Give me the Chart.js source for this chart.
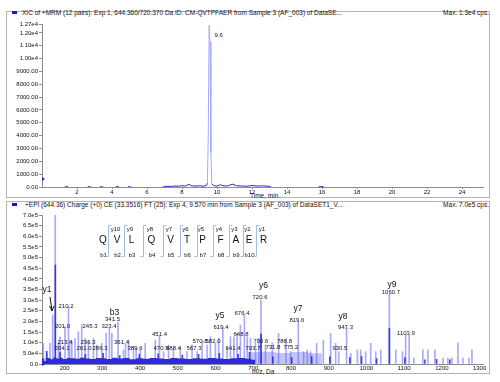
<!DOCTYPE html>
<html>
<head>
<meta charset="utf-8">
<script src="https://cdn.jsdelivr.net/npm/chart.js"></script>
<style>
  body { margin: 0; width: 500px; height: 382px; background: #fff; position: relative; overflow: hidden; font-family: 'Liberation Sans', Arial, sans-serif; }
  .frame { position: absolute; box-sizing: border-box; border: 1px solid #b4b4b4; }
  .txt { position: absolute; font-size: 6.5px; line-height: 7px; color: #111; white-space: nowrap; }
  .sq { position: absolute; width: 5px; height: 3px; background: #1414e6; }
  canvas { position: absolute; left: 0; }
</style>
</head>
<body>
<div class="frame" style="left:6px;top:11px;width:484px;height:187px"></div>
<div class="frame" style="left:6px;top:201px;width:484px;height:173px"></div>

<div class="sq" style="left:12px;top:11px"></div>
<div class="txt" style="left:22px;top:9px">XIC of +MRM (12 pairs): Exp 1, 644.360/720.370 Da ID: CM-QVTPFAER from Sample 3 (AF_003) of DataSE...</div>
<div class="txt" style="right:11px;top:9px">Max. 1.3e4 cps.</div>
<div class="txt" style="left:250px;top:192px">Time, min</div>

<div class="sq" style="left:12px;top:203px"></div>
<div class="txt" style="left:25px;top:201px">+EPI (644.36) Charge (+0) CE (33.3516) FT (25): Exp 4, 9.570 min from Sample 3 (AF_003) of DataSET1_V...</div>
<div class="txt" style="right:11px;top:201px">Max. 7.0e5 cps.</div>
<div class="txt" style="left:252px;top:368px">m/z, Da</div>

<canvas id="xicChart" width="500" height="198" style="top:0"></canvas>
<canvas id="msChart" width="500" height="184" style="top:198px"></canvas>

<script>
// XIC chromatogram
var xicTime = [0, 1.3, 1.4, 1.5, 2.6, 2.7, 2.8, 3.3, 3.4, 3.5, 4.2, 4.3, 4.4, 4.9, 5.0, 5.1, 6.9, 7.0, 7.2, 7.4, 7.6, 7.8, 8.0, 8.2, 8.4, 8.5, 8.6, 8.8, 9.0, 9.2, 9.4, 9.45, 9.5, 9.55, 9.6, 9.65, 9.7, 9.8, 10.0, 10.2, 10.4, 10.6, 10.9, 11.1, 11.4, 11.7, 12.0, 12.3, 12.6, 12.9, 13.1, 15.8, 15.9, 16.0, 16.1, 25.2];
var xicInt = [0, 0, 40, 0, 0, 30, 0, 0, 30, 0, 0, 40, 0, 0, 30, 0, 0, 40, 60, 40, 80, 60, 100, 80, 220, 120, 90, 70, 100, 60, 120, 300, 4000, 12600, 11300, 2700, 250, 120, 60, 180, 80, 90, 220, 100, 80, 60, 110, 70, 90, 60, 0, 0, 40, 40, 0, 0];
var timeTicks = [2, 4, 6, 8, 10, 12, 14, 16, 18, 20, 22, 24];
var xicTicks = [0, 1000, 2000, 3000, 4000, 5000, 6000, 7000, 8000, 9000, 10000, 11000, 12000, 12700];
var xicPeakLabel = '9.6';
var xicPeakAt = [10.1, 11850];

// EPI spectrum sticks
var specMz = [143.5, 152.5, 161.3, 168.4, 175.1, 183.3, 187.8, 201.0, 210.2, 213.4, 219.0, 227.7, 236.4, 245.3, 254.2, 263.0, 276.3, 285.3, 298.6, 310.0, 318.8, 325.2, 341.5, 356.0, 361.4, 369.3, 382.6, 389.6, 400.4, 413.6, 440.2, 451.4, 462.3, 475.5, 488.4, 506.6, 524.4, 537.7, 551.0, 564.3, 577.6, 586.3, 599.6, 608.4, 619.4, 630.7, 639.5, 648.8, 657.3, 666.0, 676.4, 684.0, 692.6, 705.9, 714.7, 720.4, 732.4, 750.3, 767.0, 786.8, 798.9, 819.4, 833.4, 843.2, 852.0, 868.0, 885.7, 905.2, 918.4, 926.4, 947.3, 958.3, 976.0, 984.8, 998.0, 1011.4, 1024.7, 1038.0, 1060.7, 1077.8, 1095.6, 1103.9, 1113.2, 1125.7, 1149.6, 1162.9, 1181.5, 1202.8, 1216.0, 1226.6, 1242.6, 1255.9, 1271.8, 1279.7];
var specInt = [97000, 50000, 97000, 230000, 700000, 97000, 128000, 175000, 270000, 113000, 105000, 121000, 152000, 185000, 120000, 105000, 121000, 89000, 97000, 144000, 168000, 144000, 197000, 66000, 94000, 113000, 81000, 75000, 66000, 97000, 113000, 132000, 58000, 89000, 75000, 81000, 58000, 89000, 58000, 105000, 89000, 128000, 97000, 120000, 168000, 74000, 128000, 128000, 144000, 183000, 230000, 128000, 121000, 97000, 121000, 300000, 89000, 100000, 144000, 120000, 58000, 197000, 58000, 66000, 58000, 97000, 113000, 144000, 97000, 58000, 168000, 50000, 66000, 66000, 58000, 97000, 58000, 66000, 329000, 66000, 58000, 136000, 136000, 28000, 66000, 66000, 66000, 28000, 28000, 28000, 99000, 28000, 28000, 66000];
// darker (overlapping) sticks
var darkMz = [152.5, 175.3, 188.0, 255.0, 302.0, 346.0, 398.0, 448.0, 512.0, 555.0, 610.0, 660.0, 690.0, 720.6, 752.0, 801.8, 854.8, 903.0, 956.0, 987.0, 1027.0, 1060.9, 1102.0, 1155.0, 1186.0, 1221.0];
var darkInt = [60000, 465000, 55000, 45000, 50000, 40000, 45000, 48000, 42000, 45000, 50000, 45000, 55000, 140000, 34000, 30000, 35000, 34000, 30000, 35000, 25000, 168000, 30000, 20000, 22000, 20000];
// low-level noise floor
var noiseMz = [140, 146, 150, 158, 163, 170, 178, 186, 195, 206, 215, 228, 240, 255, 268, 282, 296, 310, 326, 340, 356, 372, 390, 408, 425, 444, 462, 480, 500, 520, 540, 560, 580, 600, 620, 640, 660, 680, 695, 705];
var noiseInt = [26000, 14000, 28000, 27000, 22000, 30000, 26000, 29000, 24000, 28000, 27000, 25000, 29000, 26000, 23000, 28000, 27000, 24000, 29000, 26000, 28000, 22000, 27000, 25000, 28000, 26000, 24000, 28000, 26000, 23000, 27000, 25000, 28000, 26000, 24000, 27000, 28000, 25000, 20000, 0];
var bandMz = [692, 725, 760, 800, 845, 882];
var bandInt = [55000, 58000, 52000, 56000, 50000, 0];

var mzTicks = [200, 300, 400, 500, 600, 700, 800, 900, 1000, 1100, 1200, 1300];
var intTicks = [0, 50000, 100000, 150000, 200000, 250000, 300000, 350000, 400000, 450000, 500000, 550000, 600000, 650000, 700000];

// peak annotations (text, anchor m/z, anchor intensity)
var labelText = ['y1', '210.2', '201.0', 'b3', '341.5', '245.3', '323.4', '213.4', '236.3', '204.1', '261.0', '286.3', '361.4', '389.6', '451.4', '470.5', '488.4', '567.3', '570.8', '582.0', '641.4', '619.4', 'y5', '676.4', '648.8', '720.6', 'y6', '700.6', '703.7', '731.8', '775.2', '786.8', '819.6', 'y7', '930.5', '947.3', 'y8', '1060.7', 'y9', '1103.9'];
var labelMz = [153.3, 203.6, 194.3, 332.2, 326.9, 267.2, 317.6, 201.0, 261.9, 193.0, 251.3, 293.7, 350.7, 386.5, 451.4, 455.4, 488.5, 542.9, 558.8, 593.2, 646.2, 614.4, 611.8, 670.1, 667.4, 717.8, 727.0, 720.4, 699.2, 752.2, 799.9, 782.7, 815.8, 818.5, 929.8, 944.4, 937.8, 1065.0, 1067.6, 1104.8];
var labelInt = [348000, 272500, 178500, 239600, 211400, 178500, 178500, 103400, 103400, 75200, 75200, 75200, 103400, 75200, 141000, 75200, 75200, 75200, 108000, 108000, 75200, 171500, 225500, 239600, 141000, 314800, 368800, 108000, 75200, 79900, 79900, 108000, 206700, 258400, 75200, 173800, 220800, 338300, 371100, 145600];

// peptide sequence with fragment ladder
var seqLetters = ['Q', 'V', 'L', 'Q', 'V', 'T', 'P', 'F', 'A', 'E', 'R'];

var FONT = "'Liberation Sans', Arial, sans-serif";
Chart.defaults.font.family = FONT;
Chart.defaults.font.size = 6;
Chart.defaults.color = '#111';

function axisX(min, max, ticks, h, tickLen) {
    return {
        type: 'linear', min: min, max: max, offset: false,
        afterBuildTicks: function (s) { s.ticks = ticks.map(function (v) { return { value: v }; }); },
        afterFit: function (s) { s.height = h; s.paddingLeft = 0; s.paddingRight = 0; },
        grid: { drawOnChartArea: false, offset: false, tickLength: tickLen, color: '#8c8c8c' },
        border: { color: '#8c8c8c' },
        ticks: { padding: 0, maxRotation: 0, autoSkip: false, callback: function (v) { return String(v); } }
    };
}

function axisY(max, ticks, fmt) {
    return {
        min: 0, max: max,
        afterBuildTicks: function (s) { s.ticks = ticks.map(function (v) { return { value: v }; }); },
        afterFit: function (s) { s.width = 42; s.paddingTop = 0; s.paddingBottom = 0; },
        grid: { drawOnChartArea: false, tickLength: 3, color: '#8c8c8c' },
        border: { color: '#8c8c8c' },
        ticks: { padding: 1, autoSkip: false, callback: fmt }
    };
}

function marker(ctx, x, y) {
    ctx.fillStyle = '#1e1ee0';
    ctx.beginPath();
    ctx.moveTo(x, y - 2);
    ctx.lineTo(x + 3, y);
    ctx.lineTo(x, y + 2);
    ctx.closePath();
    ctx.fill();
}

//XIC panel
var xicPlugin = {
    id: 'xicAnno',
    afterDatasetsDraw: function (chart) {
        var ctx = chart.ctx, xs = chart.scales.x, ys = chart.scales.y;
        ctx.save();
        ctx.font = '6px ' + FONT;
        ctx.fillStyle = '#111';
        ctx.textAlign = 'center';
        ctx.textBaseline = 'middle';
        ctx.fillText(xicPeakLabel, xs.getPixelForValue(xicPeakAt[0]), ys.getPixelForValue(xicPeakAt[1]));
        marker(ctx, chart.chartArea.left, ys.getPixelForValue(630));
        ctx.restore();
    }
};

new Chart(document.getElementById('xicChart'), {
    type: 'line',
    data: {
        datasets: [{
            data: xicTime.map(function (t, i) { return { x: t, y: xicInt[i] }; }),
            borderColor: '#a3abf7',
            borderWidth: 1,
            pointRadius: 0,
            tension: 0,
            segment: {
                borderColor: function (c) {
                    var m = Math.max(c.p0.parsed.y, c.p1.parsed.y);
                    if (m === 0) return 'rgba(0,0,0,0)';
                    return m < 600 ? '#2a2ad2' : '#a3abf7';
                }
            }
        }]
    },
    options: {
        responsive: false, animation: false,
        layout: { padding: { top: 24, right: 17, left: 0, bottom: 0 } },
        plugins: { legend: { display: false }, tooltip: { enabled: false } },
        scales: {
            x: axisX(0, 25.2, timeTicks, 11, 2),
            y: axisY(12700, xicTicks, function (v) {
                return v >= 10000 ? (v / 10000).toFixed(2) + 'e4' : v.toFixed(2);
            })
        }
    },
    plugins: [xicPlugin]
});

//MS/MS panel
var msPlugin = {
    id: 'msAnno',
    afterDatasetsDraw: function (chart) {
        var ctx = chart.ctx, xs = chart.scales.x, ys = chart.scales.y, ca = chart.chartArea;
        ctx.save();
        ctx.fillStyle = '#111';
        ctx.textAlign = 'center';
        ctx.textBaseline = 'middle';
        for (var i = 0; i < labelText.length; i++) {
            var big = /^[yb]/.test(labelText[i]);
            ctx.font = (big ? '8.5px ' : '6px ') + FONT;
            ctx.fillText(labelText[i], xs.getPixelForValue(labelMz[i]), ys.getPixelForValue(labelInt[i]));
        }
        // arrow under y1
        var ax = xs.getPixelForValue(labelMz[0]), ay = ys.getPixelForValue(labelInt[0]);
        ctx.strokeStyle = '#111';
        ctx.lineWidth = 1;
        ctx.beginPath();
        ctx.moveTo(ax + 3, ay + 7);
        ctx.lineTo(ax + 5, ay + 21);
        ctx.moveTo(ax + 2.5, ay + 16);
        ctx.lineTo(ax + 5, ay + 21);
        ctx.lineTo(ax + 7, ay + 16);
        ctx.stroke();

        // sequence ladder (offsets from chart area)
        var letterX = [61, 75, 89.5, 109.5, 128.5, 145, 160.5, 178.5, 193.8, 207, 221.5];
        var gapX = [66, 82, 101, 121, 138, 155, 171, 187, 201, 214];
        var top = ca.top;
        ctx.font = '10px ' + FONT;
        for (var k = 0; k < seqLetters.length; k++) {
            ctx.fillText(seqLetters[k], ca.left + letterX[k], top + 25.5);
        }
        ctx.font = '6px ' + FONT;
        for (var g = 0; g < gapX.length; g++) {
            ctx.fillText('y' + (10 - g), ca.left + letterX[g + 1] - 1.5, top + 14);
            ctx.fillText('b' + (g + 1), ca.left + letterX[g] + 0.5, top + 40.5);
        }
        ctx.strokeStyle = '#a6bde3';
        ctx.beginPath();
        for (var j = 0; j < gapX.length; j++) {
            var gx = ca.left + gapX[j] + 0.5;
            ctx.moveTo(gx + 3, top + 10.5);
            ctx.lineTo(gx, top + 10.5);
            ctx.lineTo(gx, top + 41.5);
            ctx.lineTo(gx - 3, top + 41.5);
        }
        ctx.stroke();

        marker(ctx, ca.left, ys.getPixelForValue(0));
        ctx.restore();
    }
};

new Chart(document.getElementById('msChart'), {
    type: 'bar',
    data: {
        datasets: [{
            type: 'line', order: 0,
            data: noiseMz.map(function (m, i) { return { x: m, y: noiseInt[i] }; }),
            stepped: true, fill: 'origin', backgroundColor: 'rgb(44,44,214)',
            borderWidth: 0, pointRadius: 0
        }, {
            type: 'line', order: 3,
            data: bandMz.map(function (m, i) { return { x: m, y: bandInt[i] }; }),
            stepped: true, fill: 'origin', backgroundColor: 'rgb(196,196,250)',
            borderWidth: 0, pointRadius: 0
        }, {
            order: 2,
            data: specMz.map(function (m, i) { return { x: m, y: specInt[i] }; }),
            backgroundColor: 'rgba(100,100,245,0.55)',
            barThickness: 1, grouped: false
        }, {
            order: 1,
            data: darkMz.map(function (m, i) { return { x: m, y: darkInt[i] }; }),
            backgroundColor: 'rgba(36,36,220,0.85)',
            barThickness: 1, grouped: false
        }]
    },
    options: {
        responsive: false, animation: false,
        layout: { padding: { top: 17, right: 17, left: 0, bottom: 0 } },
        plugins: { legend: { display: false }, tooltip: { enabled: false } },
        scales: {
            x: axisX(140, 1309, mzTicks, 18, 1),
            y: axisY(700000, intTicks, function (v) {
                if (v === 0) return '0.0';
                if (v < 100000) return (v / 10000).toFixed(1) + 'e4';
                return (v / 100000).toFixed(1) + 'e5';
            })
        }
    },
    plugins: [msPlugin]
});
</script>
</body>
</html>
